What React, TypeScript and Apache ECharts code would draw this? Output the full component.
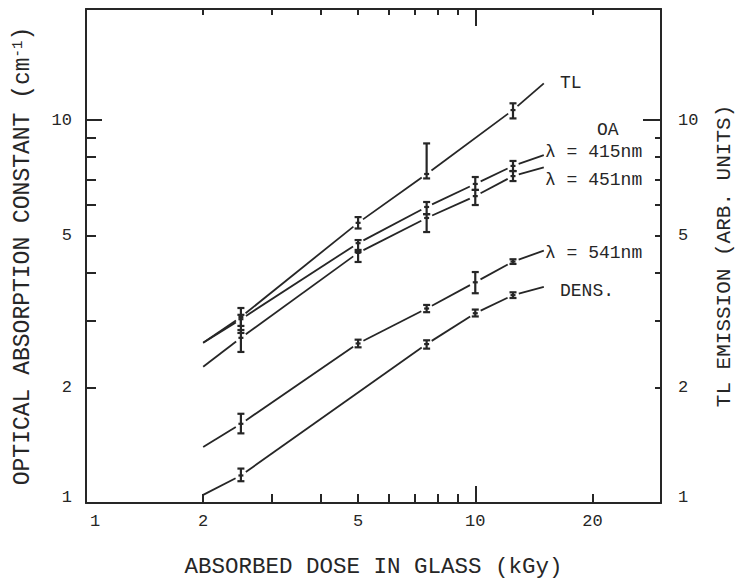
import React, { useEffect, useRef } from "react";
import * as echarts from "echarts";

// ---- axis ranges and ticks (raw values; axes are log10 scaled) ----
const DOSE_MIN = 1;
const DOSE_MAX = 30;
const ABS_MIN = 1;
const ABS_MAX = 19.5;
const DOSE_SHORT_TICKS = [2, 3, 4, 5, 6, 7, 8, 9, 20];
const DOSE_LONG_TICKS = [10];
const DOSE_LABELS = [1, 2, 5, 10, 20];
const ABS_SHORT_TICKS = [2, 3, 4, 5, 6, 7, 8, 9];
const ABS_LONG_TICKS = [10];
const ABS_LABELS = [1, 2, 5, 10];
const TL_AXIS_LABELS = [1, 2, 5, 10];

// ---- series (dose in kGy) ----
const tlDose = [2, 2.5, 5, 7.5, 12.5, 15];
const tlValue = [2.62, 3.06, 5.39, 7.23, 10.62, 12.47];
const tlLow = [null, 2.9, 5.21, 7.04, 10.1, null];
const tlHigh = [null, 3.23, 5.58, 8.69, 11.06, null];

const oa415Dose = [2, 2.5, 5, 7.5, 10, 12.5, 15];
const oa415Value = [2.62, 3.02, 4.77, 5.93, 6.81, 7.59, 8.1];
const oa415Low = [null, 2.78, 4.52, 5.68, 6.57, 7.36, null];
const oa415High = [null, 3.1, 4.86, 6.11, 7.1, 7.82, null];

const oa451Dose = [2, 2.5, 5, 7.5, 10, 12.5, 15];
const oa451Value = [2.27, 2.7, 4.5, 5.55, 6.33, 7.14, 7.52];
const oa451Low = [null, 2.48, 4.26, 5.1, 6.0, 6.93, null];
const oa451High = [null, 2.83, 4.58, 5.68, 6.57, 7.36, null];

const oa541Dose = [2, 2.5, 5, 7.5, 10, 12.5, 15];
const oa541Value = [1.4, 1.61, 2.61, 3.22, 3.77, 4.27, 4.56];
const oa541Low = [null, 1.52, 2.55, 3.15, 3.53, 4.21, null];
const oa541High = [null, 1.71, 2.67, 3.29, 4.01, 4.33, null];

const densDose = [2, 2.5, 7.5, 10, 12.5, 15];
const densValue = [1.05, 1.18, 2.6, 3.13, 3.49, 3.67];
const densLow = [null, 1.14, 2.53, 3.07, 3.43, null];
const densHigh = [null, 1.23, 2.66, 3.2, 3.55, null];

const CURVE_LABELS = ["TL", "OA", "λ = 415nm", "λ = 451nm", "λ = 541nm", "DENS."];

const INK = "#262626";
const MONO = "'Liberation Mono', 'DejaVu Sans Mono', monospace";
const lg = (v: number) => Math.log10(v);

function curveSeries(
  name: string,
  dose: number[],
  value: number[],
  low: (number | null)[],
  high: (number | null)[]
) {
  const GAP = 6;
  return {
    type: "custom",
    name,
    xAxisIndex: 0,
    yAxisIndex: 0,
    clip: false,
    data: dose.map((d, i) => [lg(d), lg(value[i])]),
    renderItem: (params: any, api: any) => {
      const i = params.dataIndex;
      const children: any[] = [];
      const p = api.coord([lg(dose[i]), lg(value[i])]);
      const hasBar = low[i] != null && high[i] != null;
      const stroke = { stroke: INK, lineWidth: 1.8 };
      if (hasBar) {
        const t = api.coord([lg(dose[i]), lg(high[i] as number)]);
        const b = api.coord([lg(dose[i]), lg(low[i] as number)]);
        const bar = { stroke: INK, lineWidth: 2.2 };
        children.push({ type: "line", shape: { x1: p[0], y1: t[1], x2: p[0], y2: b[1] }, style: bar });
        children.push({ type: "line", shape: { x1: p[0] - 3.5, y1: t[1], x2: p[0] + 3.5, y2: t[1] }, style: bar });
        children.push({ type: "line", shape: { x1: p[0] - 3.5, y1: b[1], x2: p[0] + 3.5, y2: b[1] }, style: bar });
        children.push({ type: "line", shape: { x1: p[0] - 2.5, y1: p[1], x2: p[0] + 2.5, y2: p[1] }, style: bar });
      }
      if (i < dose.length - 1) {
        const q = api.coord([lg(dose[i + 1]), lg(value[i + 1])]);
        const dx = q[0] - p[0];
        const dy = q[1] - p[1];
        const len = Math.hypot(dx, dy) || 1;
        const ux = dx / len;
        const uy = dy / len;
        const g0 = hasBar ? GAP : 0;
        const g1 = low[i + 1] != null ? GAP : 0;
        children.push({
          type: "line",
          shape: { x1: p[0] + ux * g0, y1: p[1] + uy * g0, x2: q[0] - ux * g1, y2: q[1] - uy * g1 },
          style: stroke,
        });
      }
      return { type: "group", children };
    },
  };
}

const labelFormatter = (v: number) => {
  const n = Math.round(Math.pow(10, v));
  return n === 1 ? "{o|1}" : String(n);
};

export default function App() {
  const ref = useRef<HTMLDivElement>(null);
  useEffect(() => {
    if (!ref.current) return;
    const chart = echarts.init(ref.current, undefined, { renderer: "svg" });
    const lineStyle = { color: INK, width: 2 };
    const tickFont = { fontSize: 17, fontFamily: MONO, color: INK };
    const xBase = { type: "value", min: lg(DOSE_MIN), max: lg(DOSE_MAX), splitLine: { show: false } };
    const yBase = { type: "value", min: lg(ABS_MIN), max: lg(ABS_MAX), splitLine: { show: false } };
    const line = { show: true, onZero: false, lineStyle };
    const noLine = { show: false, onZero: false };
    const option: any = {
      animation: false,
      backgroundColor: "#ffffff",
      grid: { left: 86, top: 9, right: 76, bottom: 84, containLabel: false, outerBoundsMode: "none" },
      xAxis: [
        {
          ...xBase,
          position: "bottom",
          axisLine: line,
          axisTick: { show: true, inside: true, length: 9, lineStyle, customValues: DOSE_SHORT_TICKS.map(lg) },
          axisLabel: {
            show: true,
            ...tickFont,
            margin: 10,
            customValues: DOSE_LABELS.map(lg),
            formatter: labelFormatter,
            rich: { o: { ...tickFont, padding: [0, 0, 0, 18] } },
          },
          name: "ABSORBED DOSE IN GLASS (kGy)",
          nameLocation: "middle",
          nameGap: 52,
          nameTextStyle: { fontSize: 22.5, fontFamily: MONO, color: INK },
        },
        {
          ...xBase,
          position: "bottom",
          axisLine: noLine,
          axisTick: { show: true, inside: true, length: 17, lineStyle, customValues: DOSE_LONG_TICKS.map(lg) },
          axisLabel: { show: false },
        },
        {
          ...xBase,
          position: "top",
          axisLine: line,
          axisTick: { show: true, inside: true, length: 6, lineStyle, customValues: DOSE_SHORT_TICKS.map(lg) },
          axisLabel: { show: false },
        },
        {
          ...xBase,
          position: "top",
          axisLine: noLine,
          axisTick: { show: true, inside: true, length: 17, lineStyle, customValues: DOSE_LONG_TICKS.map(lg) },
          axisLabel: { show: false },
        },
      ],
      yAxis: [
        {
          ...yBase,
          position: "left",
          axisLine: line,
          axisTick: { show: true, inside: true, length: 10, lineStyle, customValues: ABS_SHORT_TICKS.map(lg) },
          axisLabel: {
            show: true,
            ...tickFont,
            margin: 14,
            customValues: ABS_LABELS.map(lg),
            formatter: labelFormatter,
            rich: { o: { ...tickFont, padding: [0, 0, 12, 0] } },
          },
          name: "OPTICAL ABSORPTION CONSTANT (cm{sup|-1})",
          nameLocation: "middle",
          nameGap: 52,
          nameTextStyle: {
            fontSize: 23,
            fontFamily: MONO,
            color: INK,
            rich: { sup: { fontSize: 14, fontFamily: MONO, color: INK, verticalAlign: "top", padding: [0, 0, 8, 0] } },
          },
        },
        {
          ...yBase,
          position: "left",
          axisLine: noLine,
          axisTick: { show: true, inside: true, length: 16, lineStyle, customValues: ABS_LONG_TICKS.map(lg) },
          axisLabel: { show: false },
        },
        {
          ...yBase,
          position: "right",
          axisLine: line,
          axisTick: { show: true, inside: true, length: 6, lineStyle, customValues: ABS_SHORT_TICKS.map(lg) },
          axisLabel: {
            show: true,
            ...tickFont,
            margin: 17,
            customValues: TL_AXIS_LABELS.map(lg),
            formatter: labelFormatter,
            rich: { o: { ...tickFont, padding: [0, 0, 12, 0] } },
          },
          name: "TL EMISSION (ARB. UNITS)",
          nameLocation: "middle",
          nameGap: 53,
          nameTextStyle: { fontSize: 21, fontFamily: MONO, color: INK },
        },
        {
          ...yBase,
          position: "right",
          axisLine: noLine,
          axisTick: { show: true, inside: true, length: 18, lineStyle, customValues: ABS_LONG_TICKS.map(lg) },
          axisLabel: { show: false },
        },
      ],
      series: [
        curveSeries("TL", tlDose, tlValue, tlLow, tlHigh),
        curveSeries("λ = 415nm", oa415Dose, oa415Value, oa415Low, oa415High),
        curveSeries("λ = 451nm", oa451Dose, oa451Value, oa451Low, oa451High),
        curveSeries("λ = 541nm", oa541Dose, oa541Value, oa541Low, oa541High),
        curveSeries("DENS.", densDose, densValue, densLow, densHigh),
      ],
      graphic: [
        { type: "text", x: 560, y: 83, style: { text: CURVE_LABELS[0], fontSize: 18, fontFamily: MONO, fill: INK, align: "left", verticalAlign: "middle" } },
        { type: "text", x: 597, y: 130, style: { text: CURVE_LABELS[1], fontSize: 18, fontFamily: MONO, fill: INK, align: "left", verticalAlign: "middle" } },
        { type: "text", x: 545, y: 152, style: { text: CURVE_LABELS[2], fontSize: 18, fontFamily: MONO, fill: INK, align: "left", verticalAlign: "middle" } },
        { type: "text", x: 545, y: 180, style: { text: CURVE_LABELS[3], fontSize: 18, fontFamily: MONO, fill: INK, align: "left", verticalAlign: "middle" } },
        { type: "text", x: 545, y: 253, style: { text: CURVE_LABELS[4], fontSize: 18, fontFamily: MONO, fill: INK, align: "left", verticalAlign: "middle" } },
        { type: "text", x: 560, y: 291, style: { text: CURVE_LABELS[5], fontSize: 18, fontFamily: MONO, fill: INK, align: "left", verticalAlign: "middle" } },
      ],
    };
    chart.setOption(option);
    return () => chart.dispose();
  }, []);
  return (
    <div
      ref={ref}
      style={{ position: "fixed", left: 0, top: 0, width: 737, height: 587, background: "#fff" }}
    />
  );
}
